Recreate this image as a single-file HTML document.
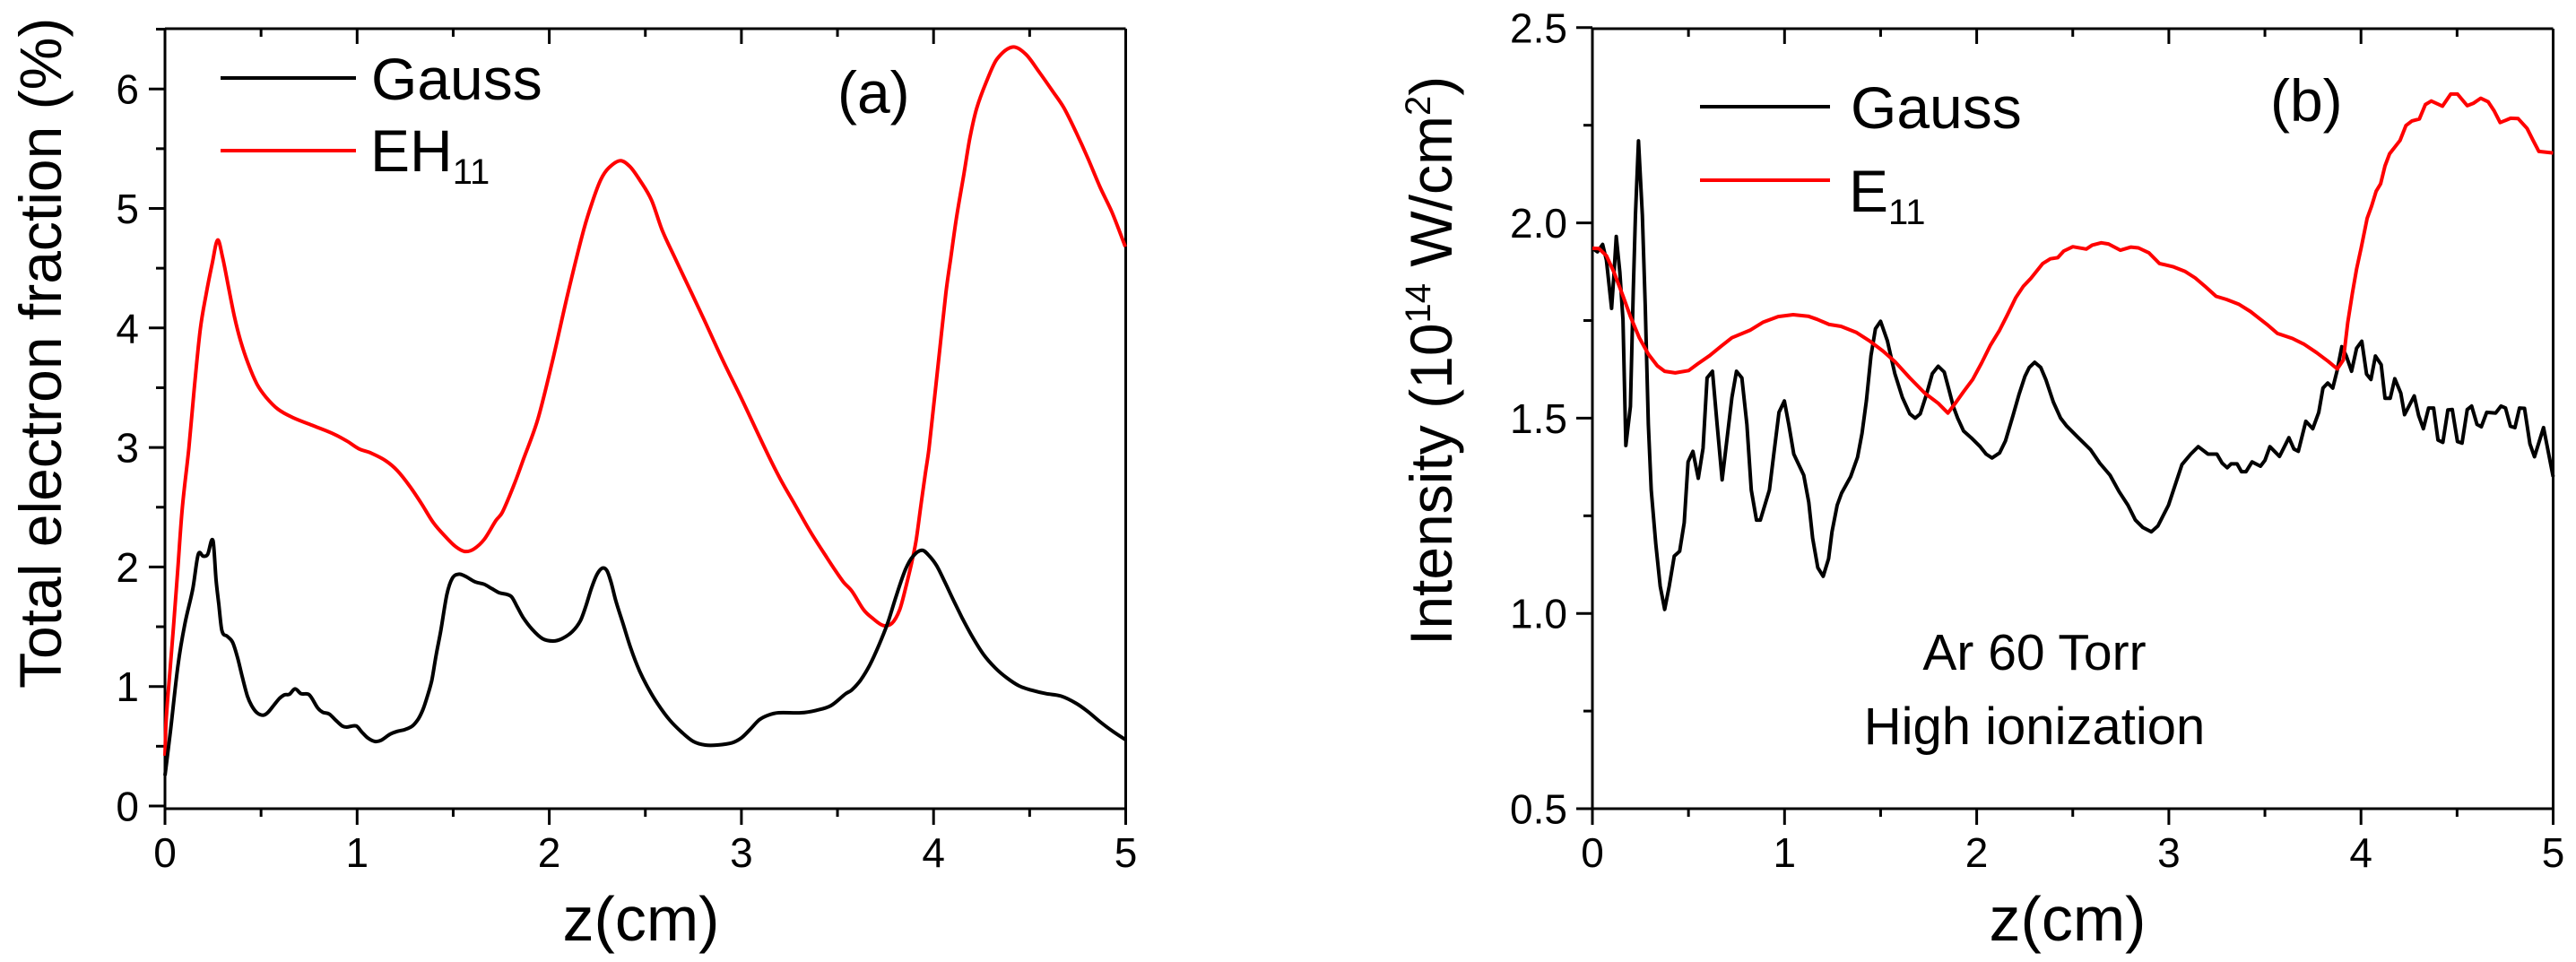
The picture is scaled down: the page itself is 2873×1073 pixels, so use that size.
<!DOCTYPE html>
<html>
<head>
<meta charset="utf-8">
<title>Total electron fraction and intensity versus z</title>
<style>
html,body{margin:0;padding:0;background:#fff;}
svg{display:block;}
text{font-family:"Liberation Sans",Arial,sans-serif;fill:#000;}
</style>
</head>
<body>
<svg id="fig" xmlns="http://www.w3.org/2000/svg" width="2873" height="1073" viewBox="0 0 2873 1073">
  <rect x="0" y="0" width="2873" height="1073" fill="#fff"/>
  <g id="panel-a">
    <g id="a-axes"></g>
    <g id="a-series"></g>
    <text transform="translate(68,768) rotate(-90)" font-size="66">Total electron fraction (%)</text>
    <text x="715" y="1049" font-size="70" text-anchor="middle">z(cm)</text>
    <line x1="246" y1="87" x2="397" y2="87" stroke="#000" stroke-width="4"/>
    <text x="414" y="111" font-size="66">Gauss</text>
    <line x1="246" y1="168" x2="397" y2="168" stroke="#f00" stroke-width="4"/>
    <text x="413" y="191" font-size="66">EH<tspan dy="14" font-size="40">11</tspan></text>
    <text x="934" y="126" font-size="66">(a)</text>
  </g>
  <g id="panel-b">
    <g id="b-axes"></g>
    <g id="b-series"></g>
    <text transform="translate(1619,720) rotate(-90)" font-size="66">Intensity (10<tspan dy="-24" font-size="40">14</tspan><tspan dy="24"> W/cm</tspan><tspan dy="-24" font-size="40">2</tspan><tspan dy="24">)</tspan></text>
    <text x="2306" y="1049" font-size="70" text-anchor="middle">z(cm)</text>
    <line x1="1896" y1="119" x2="2041" y2="119" stroke="#000" stroke-width="4"/>
    <text x="2064" y="143" font-size="66">Gauss</text>
    <line x1="1896" y1="201" x2="2041" y2="201" stroke="#f00" stroke-width="4"/>
    <text x="2062" y="236" font-size="66">E<tspan dy="14" font-size="40">11</tspan></text>
    <text x="2532" y="135" font-size="66">(b)</text>
    <text x="2269" y="747" font-size="57" text-anchor="middle">Ar 60 Torr</text>
    <text x="2269" y="830" font-size="58" text-anchor="middle">High ionization</text>
  </g>
</svg>
<script>
var xTicksMajor = ["0", "1", "2", "3", "4", "5"];
var xTicksMinor = [0.5, 1.5, 2.5, 3.5, 4.5];
var yTicksMajorA = ["0", "1", "2", "3", "4", "5", "6"];
var yTicksMinorA = [0.5, 1.5, 2.5, 3.5, 4.5, 5.5, 6.5];
var yTicksMajorB = ["0.5", "1.0", "1.5", "2.0", "2.5"];
var yTicksMinorB = [0.75, 1.25, 1.75, 2.25];

var zGaussA = [0,.028,.067,.103,.145,.173,.199,.222,.25,.266,.28,.296,.324,.352,.378,.401,.429,.451,.479,.51,.534,.565,.596,.622,.647,.677,.708,.751,.795,.821,.855,.887,.922,.946,.995,1.024,1.055,1.093,1.125,1.171,1.21,1.249,1.288,1.319,1.342,1.366,1.389,1.412,1.436,1.467,1.495,1.529,1.56,1.615,1.661,1.70,1.739,1.801,1.832,1.863,1.91,1.965,2.019,2.066,2.12,2.162,2.19,2.221,2.249,2.276,2.3,2.322,2.346,2.385,2.424,2.47,2.517,2.564,2.626,2.688,2.75,2.812,2.875,2.953,3.0,3.045,3.092,3.139,3.193,3.31,3.388,3.466,3.543,3.574,3.621,3.668,3.714,3.761,3.808,3.854,3.893,3.94,3.979,4.018,4.057,4.104,4.15,4.197,4.259,4.321,4.383,4.445,4.508,4.586,4.663,4.741,4.803,4.866,4.928,4.998];
var valGaussA = [.255,.62,1.17,1.52,1.82,2.105,2.09,2.105,2.22,1.89,1.69,1.47,1.42,1.37,1.24,1.09,.92,.84,.78,.76,.78,.84,.90,.93,.935,.98,.94,.93,.82,.785,.77,.72,.67,.66,.67,.62,.57,.54,.55,.60,.625,.64,.67,.73,.805,.92,1.055,1.27,1.47,1.77,1.905,1.94,1.925,1.875,1.855,1.82,1.785,1.755,1.67,1.58,1.48,1.40,1.38,1.40,1.46,1.55,1.67,1.83,1.94,1.99,1.97,1.87,1.72,1.52,1.32,1.13,.98,.855,.72,.62,.54,.51,.51,.53,.57,.64,.72,.76,.78,.78,.80,.84,.94,.97,1.055,1.18,1.34,1.53,1.77,1.98,2.09,2.14,2.09,2.005,1.88,1.72,1.57,1.43,1.27,1.155,1.07,1.005,.97,.94,.92,.86,.79,.705,.63,.555];

var zEhA = [0,.005,.028,.044,.067,.09,.124,.152,.184,.215,.246,.274,.30,.331,.362,.394,.432,.479,.526,.588,.666,.775,.868,.946,1.008,1.07,1.148,1.21,1.272,1.335,1.397,1.459,1.513,1.56,1.607,1.661,1.723,1.755,1.817,1.863,1.941,2.019,2.097,2.174,2.221,2.268,2.31,2.37,2.42,2.47,2.532,2.587,2.65,2.7,2.8,2.9,3.0,3.123,3.201,3.279,3.357,3.434,3.528,3.574,3.637,3.683,3.738,3.784,3.823,3.854,3.885,3.909,3.932,3.956,3.976,4.029,4.064,4.088,4.119,4.158,4.189,4.225,4.28,4.33,4.41,4.48,4.55,4.62,4.679,4.741,4.803,4.866,4.928,4.998];
var valEhA = [.42,.69,1.17,1.49,1.99,2.49,2.99,3.49,3.99,4.29,4.54,4.735,4.59,4.34,4.09,3.89,3.705,3.53,3.42,3.32,3.25,3.18,3.12,3.055,2.99,2.955,2.89,2.805,2.68,2.53,2.37,2.255,2.17,2.13,2.15,2.23,2.39,2.455,2.69,2.89,3.24,3.74,4.29,4.79,5.04,5.24,5.34,5.40,5.35,5.24,5.07,4.82,4.6,4.43,4.09,3.74,3.41,2.99,2.74,2.52,2.30,2.105,1.88,1.80,1.64,1.57,1.51,1.53,1.64,1.82,2.03,2.22,2.49,2.77,2.99,3.77,4.29,4.57,4.92,5.29,5.59,5.84,6.08,6.25,6.35,6.29,6.14,5.98,5.84,5.64,5.42,5.18,4.97,4.68];

var zGaussB = [0,.026,.053,.073,.10,.112,.124,.143,.159,.174,.198,.213,.224,.24,.26,.275,.291,.306,.33,.353,.376,.40,.426,.454,.478,.498,.523,.551,.576,.597,.625,.649,.675,.695,.726,.75,.778,.804,.827,.854,.874,.921,.944,.971,.999,1.022,1.048,1.10,1.126,1.146,1.173,1.201,1.229,1.247,1.274,1.297,1.344,1.38,1.403,1.426,1.45,1.473,1.50,1.535,1.574,1.613,1.652,1.68,1.706,1.738,1.769,1.8,1.831,1.854,1.878,1.901,1.932,1.971,2.018,2.049,2.08,2.119,2.15,2.189,2.22,2.251,2.274,2.302,2.333,2.36,2.399,2.437,2.468,2.523,2.593,2.64,2.694,2.741,2.787,2.826,2.865,2.909,2.943,2.998,3.029,3.068,3.114,3.153,3.204,3.25,3.277,3.304,3.324,3.355,3.378,3.402,3.433,3.477,3.5,3.526,3.576,3.625,3.651,3.674,3.713,3.749,3.78,3.802,3.827,3.853,3.876,3.9,3.923,3.951,3.977,4.004,4.029,4.052,4.075,4.105,4.125,4.152,4.176,4.207,4.227,4.277,4.3,4.325,4.352,4.378,4.401,4.426,4.452,4.475,4.502,4.526,4.553,4.576,4.604,4.626,4.654,4.701,4.729,4.752,4.778,4.801,4.825,4.851,4.879,4.903,4.95,5.0];
var valGaussB = [1.935,1.926,1.945,1.905,1.781,1.867,1.965,1.874,1.752,1.43,1.53,1.828,2.02,2.21,2.02,1.79,1.484,1.316,1.178,1.07,1.01,1.07,1.147,1.159,1.232,1.388,1.415,1.346,1.423,1.603,1.62,1.484,1.342,1.423,1.553,1.62,1.603,1.484,1.316,1.239,1.239,1.316,1.408,1.515,1.544,1.484,1.408,1.354,1.285,1.193,1.117,1.095,1.14,1.209,1.277,1.308,1.35,1.40,1.461,1.545,1.66,1.729,1.748,1.698,1.614,1.553,1.511,1.50,1.511,1.56,1.614,1.633,1.618,1.576,1.53,1.50,1.467,1.45,1.427,1.408,1.398,1.411,1.442,1.507,1.56,1.607,1.63,1.643,1.63,1.599,1.541,1.50,1.48,1.453,1.419,1.385,1.354,1.312,1.277,1.239,1.22,1.209,1.224,1.277,1.323,1.381,1.408,1.427,1.408,1.408,1.385,1.373,1.383,1.383,1.363,1.363,1.388,1.377,1.392,1.427,1.402,1.45,1.421,1.415,1.492,1.473,1.515,1.577,1.59,1.577,1.622,1.683,1.66,1.62,1.679,1.697,1.613,1.599,1.659,1.637,1.551,1.551,1.601,1.564,1.509,1.557,1.507,1.473,1.526,1.526,1.444,1.438,1.521,1.522,1.44,1.436,1.522,1.531,1.484,1.478,1.515,1.513,1.531,1.526,1.479,1.476,1.526,1.525,1.434,1.401,1.476,1.35];

var zEB = [0,.034,.073,.112,.159,.198,.244,.291,.338,.376,.431,.501,.548,.61,.672,.726,.82,.89,.967,1.045,1.123,1.17,1.232,1.294,1.372,1.442,1.512,1.574,1.652,1.73,1.8,1.85,1.893,1.932,1.979,2.025,2.072,2.119,2.158,2.204,2.243,2.282,2.344,2.383,2.422,2.453,2.5,2.57,2.601,2.648,2.686,2.748,2.803,2.842,2.897,2.951,3.021,3.083,3.137,3.192,3.246,3.3,3.363,3.425,3.456,3.511,3.565,3.643,3.705,3.768,3.83,3.877,3.908,3.931,3.955,3.977,4.001,4.032,4.055,4.079,4.102,4.125,4.149,4.203,4.234,4.265,4.304,4.335,4.366,4.424,4.467,4.502,4.553,4.584,4.623,4.662,4.693,4.724,4.779,4.818,4.864,4.895,4.926,5.0];
var valEB = [1.935,1.934,1.916,1.874,1.813,1.76,1.706,1.664,1.634,1.62,1.616,1.622,1.639,1.66,1.685,1.706,1.725,1.746,1.76,1.765,1.761,1.753,1.74,1.735,1.72,1.698,1.672,1.645,1.603,1.564,1.538,1.513,1.541,1.568,1.599,1.641,1.687,1.725,1.763,1.809,1.838,1.858,1.896,1.908,1.911,1.928,1.939,1.933,1.943,1.949,1.946,1.93,1.938,1.936,1.923,1.896,1.888,1.876,1.859,1.836,1.812,1.804,1.792,1.773,1.761,1.74,1.717,1.704,1.689,1.668,1.645,1.626,1.649,1.744,1.82,1.882,1.936,2.012,2.043,2.081,2.1,2.146,2.177,2.211,2.249,2.261,2.266,2.303,2.312,2.299,2.33,2.33,2.30,2.306,2.319,2.31,2.287,2.257,2.268,2.267,2.242,2.212,2.183,2.179];

var NS = "http://www.w3.org/2000/svg";
function xA(z){ return 184 + 214.3 * z; }
function yA(v){ return 899 - 133.3 * v; }
function xB(z){ return 1776 + 214.3 * z; }
function yB(v){ return 902 - 435.6 * (v - 0.5); }

function addLine(parent, x1, y1, x2, y2, name) {
  var el = document.createElementNS(NS, "line");
  el.setAttribute("x1", x1);
  el.setAttribute("y1", y1);
  el.setAttribute("x2", x2);
  el.setAttribute("y2", y2);
  el.setAttribute("stroke", "#000");
  el.setAttribute("stroke-width", "3");
  
  
  parent.appendChild(el);
}
function addLabel(parent, x, y, anchor, str, name) {
  var el = document.createElementNS(NS, "text");
  el.setAttribute("x", x);
  el.setAttribute("y", y);
  el.setAttribute("font-size", "46");
  el.setAttribute("text-anchor", anchor);
  el.textContent = str;
  
  
  parent.appendChild(el);
}
function straightPath(px, py) {
  var d = "M" + px[0].toFixed(1) + "," + py[0].toFixed(1);
  for (var i = 1; i < px.length; i++) {
    d += "L" + px[i].toFixed(1) + "," + py[i].toFixed(1);
  }
  return d;
}
function smoothPath(px, py) {
  var n = px.length;
  var slope = [];
  for (var i = 0; i < n; i++) {
    var a = Math.max(0, i - 1);
    var b = Math.min(n - 1, i + 1);
    slope.push((py[b] - py[a]) / (px[b] - px[a]));
  }
  var d = "M" + px[0].toFixed(1) + "," + py[0].toFixed(1);
  for (var j = 1; j < n; j++) {
    var h = (px[j] - px[j - 1]) / 3;
    d += "C" + (px[j - 1] + h).toFixed(1) + "," + (py[j - 1] + slope[j - 1] * h).toFixed(1) +
         " " + (px[j] - h).toFixed(1) + "," + (py[j] - slope[j] * h).toFixed(1) +
         " " + px[j].toFixed(1) + "," + py[j].toFixed(1);
  }
  return d;
}
function addSeries(parent, zs, vs, fx, fy, color, name, smooth) {
  var px = zs.map(fx);
  var py = vs.map(fy);
  var el = document.createElementNS(NS, "path");
  el.setAttribute("d", smooth ? smoothPath(px, py) : straightPath(px, py));
  el.setAttribute("fill", "none");
  el.setAttribute("stroke", color);
  el.setAttribute("stroke-width", "4");
  el.setAttribute("stroke-linejoin", "round");
  
  
  parent.appendChild(el);
}
function drawAxes(g, prefix, fx, fy, yMajor, yMinor, left, right, top, bottom, labelRight) {
  addLine(g, left, top, right, top, prefix + "-top-axis");
  addLine(g, left, top, left, bottom, prefix + "-left-axis");
  addLine(g, right, top, right, bottom, prefix + "-right-axis");
  addLine(g, left, bottom, right, bottom, prefix + "-bottom-axis");
  xTicksMajor.forEach(function (t) {
    var x = fx(parseFloat(t));
    addLine(g, x, bottom, x, bottom + 18, prefix + "-x-tick");
    addLine(g, x, top, x, top + 17, prefix + "-top-tick");
    addLabel(g, x, 967, "middle", t, prefix + "-x-tick-label");
  });
  xTicksMinor.forEach(function (t) {
    var x = fx(t);
    addLine(g, x, bottom, x, bottom + 9, prefix + "-x-minor-tick");
    addLine(g, x, top, x, top + 9, prefix + "-top-minor-tick");
  });
  yMajor.forEach(function (t) {
    var y = fy(parseFloat(t));
    addLine(g, left - 18, y, left, y, prefix + "-y-tick");
    addLabel(g, labelRight, y + 16.5, "end", t, prefix + "-y-tick-label");
  });
  yMinor.forEach(function (t) {
    var y = fy(t);
    addLine(g, left - 10, y, left, y, prefix + "-y-minor-tick");
  });
}
var axesA = document.getElementById("a-axes");
var axesB = document.getElementById("b-axes");
drawAxes(axesA, "panel-a", xA, yA, yTicksMajorA, yTicksMinorA, 184, 1255.5, 32, 902, 155);
drawAxes(axesB, "panel-b", xB, yB, yTicksMajorB, yTicksMinorB, 1776, 2847.5, 32, 902, 1748);
var seriesA = document.getElementById("a-series");
var seriesB = document.getElementById("b-series");
addSeries(seriesA, zEhA, valEhA, xA, yA, "#f00", "eh11-line", true);
addSeries(seriesA, zGaussA, valGaussA, xA, yA, "#000", "gauss-line-a", true);
addSeries(seriesB, zGaussB, valGaussB, xB, yB, "#000", "gauss-line-b", false);
addSeries(seriesB, zEB, valEB, xB, yB, "#f00", "e11-line", false);
</script>
</body>
</html>
